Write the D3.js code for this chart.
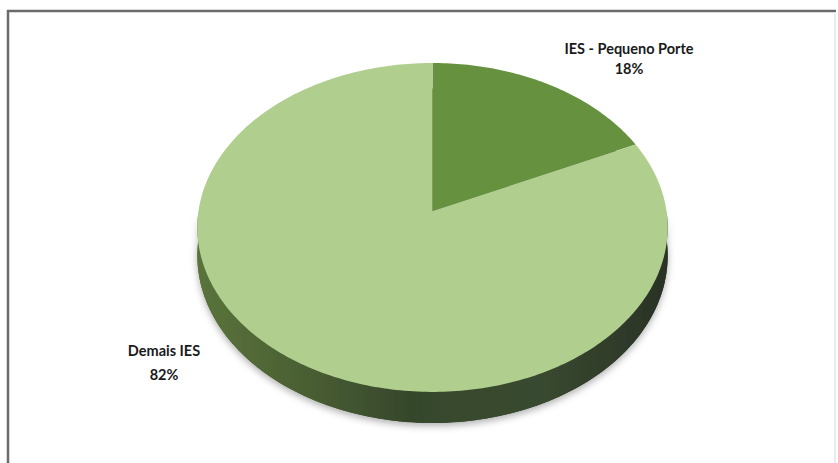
<!DOCTYPE html>
<html>
<head>
<meta charset="utf-8">
<script src="https://cdn.jsdelivr.net/npm/d3@7"></script>
<style>
  html, body { margin: 0; padding: 0; background: #ffffff; }
  svg { display: block; }
  .lbl { font-family: Lato, "Open Sans", sans-serif; font-weight: 700; font-size: 14.5px; fill: #1a1a1a; }
</style>
</head>
<body>
<svg id="chart" width="838" height="463"></svg>
<script>
// Share of institutions by size
const categories = ["IES - Pequeno Porte", "Demais IES"];
const shares = [18, 82];
const sliceColors = ["#66923f", "#b0cf8e"];
const labelPos = [[629, 54], [164, 356]];

const W = 838, H = 463;
const svg = d3.select("#chart");

// frame
svg.append("line").attr("x1", 7).attr("x2", 836).attr("y1", 11).attr("y2", 11)
  .attr("stroke", "#6b6b6b").attr("stroke-width", 2.5);
svg.append("line").attr("x1", 8).attr("x2", 8).attr("y1", 10).attr("y2", H)
  .attr("stroke", "#6b6b6b").attr("stroke-width", 2.5);
svg.append("line").attr("x1", 835).attr("x2", 835).attr("y1", 12).attr("y2", H)
  .attr("stroke", "#e4e4e4").attr("stroke-width", 1.5);

// perspective-projected disk: centre, half axes, perspective factor, thickness
const cx = 432.5, cy = 211, A = 234, B = 162.8, k = 0.1, depth = 28;
function proj(theta, r, h) {
  const u = r * Math.sin(theta), v = r * Math.cos(theta);
  const w = 1 + k * v;
  return [cx + A * u / w, cy - B * v / w + h / w];
}
function ring(a0, a1, h, n) {
  const pts = [];
  for (let i = 0; i <= n; i++) pts.push(proj(a0 + (a1 - a0) * i / n, 1, h));
  return pts;
}

const pie = d3.pie().sort(null).startAngle(0).endAngle(2 * Math.PI);
const arcs = pie(shares);
const line = d3.line();

const defs = svg.append("defs");
const grad = defs.append("linearGradient").attr("id", "wall")
  .attr("gradientUnits", "userSpaceOnUse")
  .attr("x1", cx - A).attr("x2", cx + A).attr("y1", 0).attr("y2", 0);
[[0, "#5a733b"], [0.2, "#4c6234"], [0.45, "#36472c"], [0.72, "#394a30"], [1, "#2a3226"]]
  .forEach(([o, c]) => grad.append("stop").attr("offset", o).attr("stop-color", c));
const f = defs.append("filter").attr("id", "shadow")
  .attr("x", "-10%").attr("y", "-10%").attr("width", "120%").attr("height", "130%");
f.append("feDropShadow").attr("dx", 0).attr("dy", 3).attr("stdDeviation", 3.5)
  .attr("flood-color", "#000").attr("flood-opacity", 0.3);

// side wall (front half) and bottom face
const wallG = svg.append("g").attr("filter", "url(#shadow)");
const front = ring(Math.PI / 2, 3 * Math.PI / 2, 0, 120)
  .concat(ring(3 * Math.PI / 2, Math.PI / 2, depth, 120));
wallG.append("path").attr("d", line(front) + "Z").attr("fill", "url(#wall)");
wallG.append("path").attr("d", line(ring(0, 2 * Math.PI, depth, 240)) + "Z").attr("fill", "url(#wall)");

// top face slices
svg.append("g").selectAll("path").data(arcs).join("path")
  .attr("d", d => {
    const n = Math.max(8, Math.round((d.endAngle - d.startAngle) * 60));
    return line([[cx, cy]].concat(ring(d.startAngle, d.endAngle, 0, n))) + "Z";
  })
  .attr("fill", (d, i) => sliceColors[i]);

// labels: category and percentage
const lg = svg.append("g");
categories.forEach((c, i) => {
  const t = lg.append("text").attr("class", "lbl").attr("text-anchor", "middle")
    .attr("x", labelPos[i][0]).attr("y", labelPos[i][1]);
  t.append("tspan").attr("x", labelPos[i][0]).text(c);
  t.append("tspan").attr("x", labelPos[i][0]).attr("dy", i === 0 ? 20 : 24)
    .text(d3.format(".0%")(shares[i] / d3.sum(shares)));
});
</script>
</body>
</html>
